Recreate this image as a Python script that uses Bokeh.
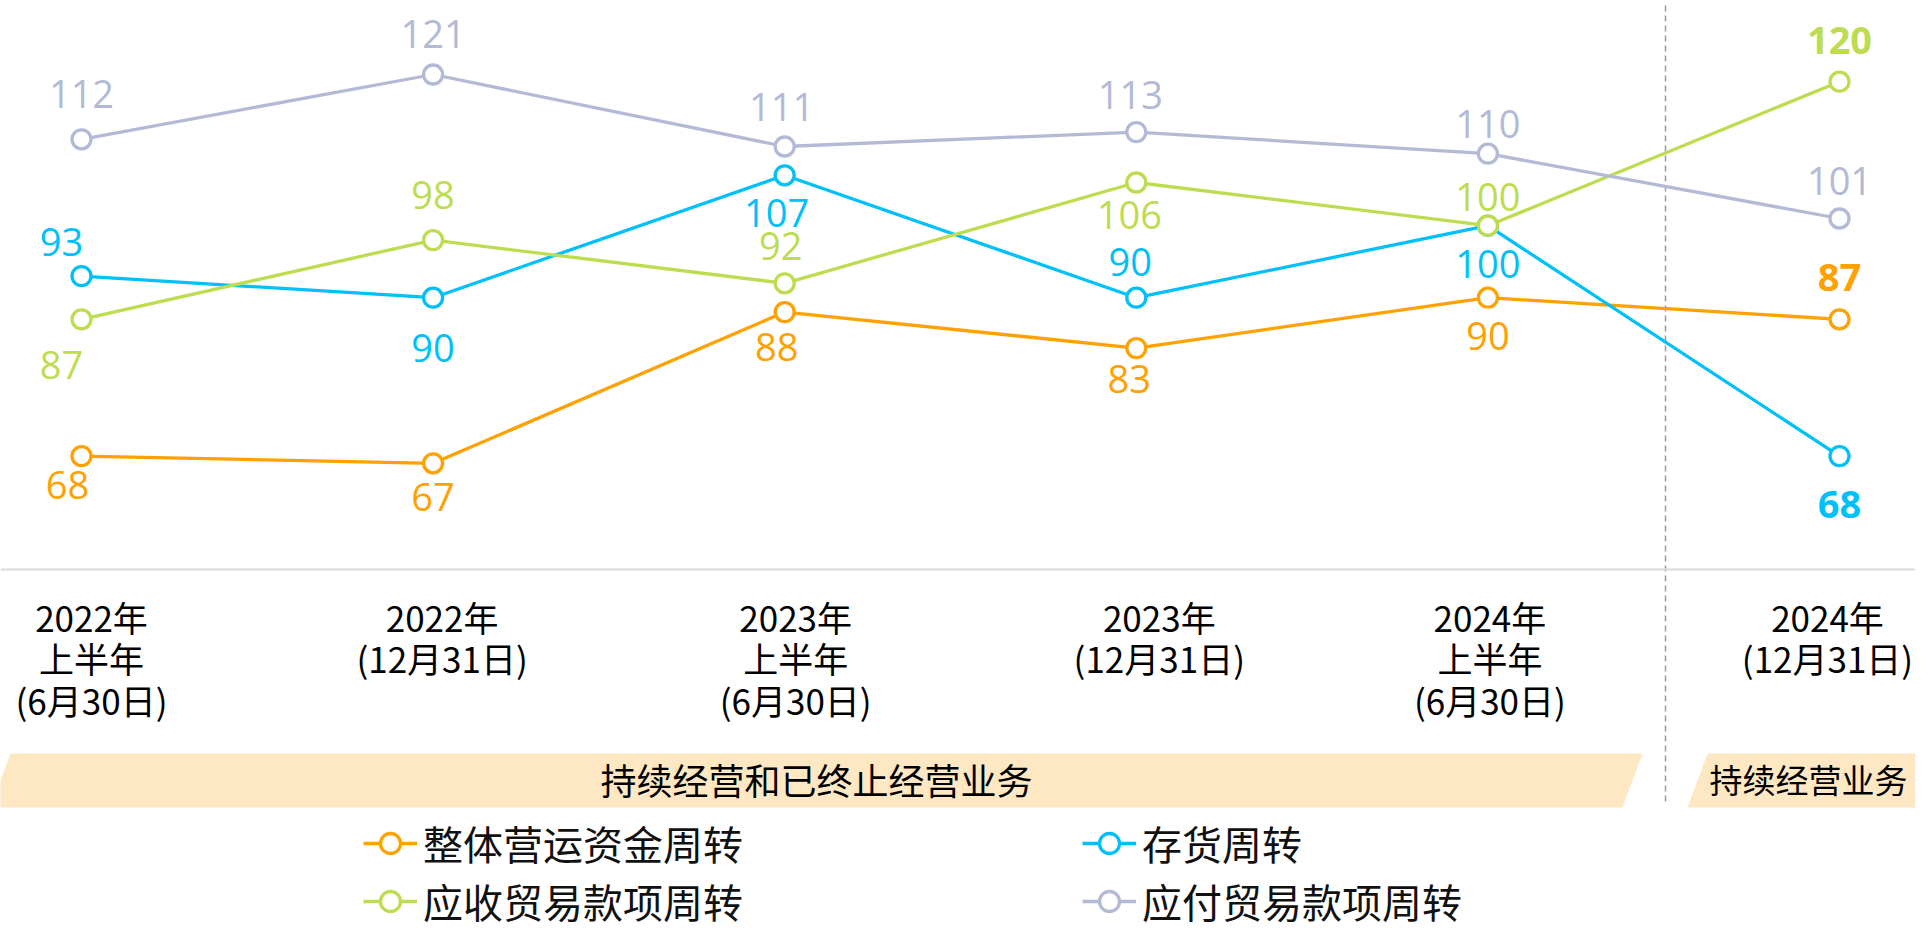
from bokeh.plotting import figure
from bokeh.models import Range1d, Legend, LegendItem, ColumnDataSource, Span
from bokeh.embed import file_html
from bokeh.resources import INLINE
from bokeh.core.properties import value

# ---------------- data ----------------
periods = ["2022年\n上半年\n(6月30日)", "2022年\n(12月31日)", "2023年\n上半年\n(6月30日)",
           "2023年\n(12月31日)", "2024年\n上半年\n(6月30日)", "2024年\n(12月31日)"]
series_names = ["整体营运资金周转", "存货周转", "应收贸易款项周转", "应付贸易款项周转"]
working_capital = [68, 67, 88, 83, 90, 87]
inventory = [93, 90, 107, 90, 100, 68]
receivables = [87, 98, 92, 106, 100, 120]
payables = [112, 121, 111, 113, 110, 101]
segment_labels = ["持续经营和已终止经营业务", "持续经营业务"]

# ---------------- styles / layout ----------------
colors = ["#FFA100", "#00C0FA", "#BEDC50", "#B3BAD6"]
# label offsets in screen px (x right, y down)
label_dy = [[29, 34, 35, 31, 38, -42],
            [-34, 50, 38, -36, 38, 48],
            [46, -45, -37, 32, -29, -41],
            [-45, -41, -40, -37, -30, -38]]
label_dx = [[-14, 0, -8, -7, 0, 0],
            [-20, 0, -8, -6, 0, 0],
            [-20, 0, -4, -7, 0, 0],
            [0, 0, -3, -6, 0, 0]]
label_bold = [[0, 0, 0, 0, 0, 1],
              [0, 0, 0, 0, 0, 1],
              [0, 0, 0, 0, 0, 1],
              [0, 0, 0, 0, 0, 0]]
tick_dx = [10, 9, 11, 23, 2, -12]

W, H = 1915, 931
X_LO, X_HI = (0 - 81) / 351.6, (W - 81) / 351.6
Y_LO, Y_HI = 121 - (H - 74) / 7.2, 121 + 74 / 7.2


def xd(px):
    return X_LO + px / W * (X_HI - X_LO)


def yd(py):
    return Y_HI - py / H * (Y_HI - Y_LO)


p = figure(width=W, height=H, output_backend="svg", toolbar_location=None,
           x_range=Range1d(X_LO, X_HI), y_range=Range1d(Y_LO, Y_HI),
           min_border=0, outline_line_color=None, background_fill_color="white")
p.axis.visible = False
p.grid.visible = False

# segment bands
band_fill = "#FDE8C3"
p.patch([xd(10), xd(1642), xd(1622), xd(-10)], [yd(753), yd(753), yd(807), yd(807)],
        fill_color=band_fill, line_color=None)
p.patch([xd(1707), xd(2100), xd(2100), xd(1687)], [yd(753), yd(753), yd(807), yd(807)],
        fill_color=band_fill, line_color=None)
p.text(x=[xd(816)], y=[yd(778)], text=[segment_labels[0]], text_align="center",
       text_baseline="middle", text_font=value("Noto Sans CJK SC"), text_font_size="36px",
       text_color="#000000")
p.text(x=[xd(1808)], y=[yd(778)], text=[segment_labels[1]], text_align="center",
       text_baseline="middle", text_font=value("Noto Sans CJK SC"), text_font_size="33px",
       text_color="#000000")

# axis line
p.add_layout(Span(location=yd(569), dimension="width", line_color="#D9D9D9", line_width=2))
# period separator
p.segment(x0=[xd(1665)], y0=[yd(5)], x1=[xd(1665)], y1=[yd(803)], line_color="#9A9A9A",
          line_width=1.5, line_dash="6 4")

# x tick labels
xs = list(range(len(periods)))
p.text(x=xs, y=[yd(590)] * len(xs), text=periods, x_offset=tick_dx, text_align="center",
       text_baseline="top", text_font=value("Noto Sans CJK SC"), text_font_size="35px",
       text_line_height=0.82, text_color="#000000")

all_series = [working_capital, inventory, receivables, payables]
renderers = []
for k, vals in enumerate(all_series):
    c = colors[k]
    ln = p.line(xs, vals, line_color=c, line_width=3.3)
    sc = p.scatter(xs, vals, size=19, fill_color="white", line_color=c, line_width=3.3)
    renderers.append([ln, sc])
    src = ColumnDataSource(dict(
        x=xs, y=vals, t=[str(v) for v in vals],
        dx=label_dx[k], dy=label_dy[k],
        fs=["bold" if b else "normal" for b in label_bold[k]]))
    p.text(x="x", y="y", text="t", x_offset="dx", y_offset="dy", text_font_style="fs",
           source=src, text_align="center", text_baseline="middle",
           text_font=value("Open Sans"), text_font_size="38px", text_color=c)

leg_common = dict(border_line_color=None, background_fill_alpha=0, padding=0, margin=0,
                  spacing=-3, glyph_width=54, glyph_height=50, label_standoff=6,
                  label_text_font="Noto Sans CJK SC", label_text_font_size="40px",
                  label_text_color="#111111", label_text_baseline="middle")
leg1 = Legend(items=[LegendItem(label=series_names[0], renderers=renderers[0]),
                     LegendItem(label=series_names[2], renderers=renderers[2])],
              location=(363, 1), **leg_common)
leg2 = Legend(items=[LegendItem(label=series_names[1], renderers=renderers[1]),
                     LegendItem(label=series_names[3], renderers=renderers[3])],
              location=(1082, 1), **leg_common)
p.add_layout(leg1)
p.add_layout(leg2)

open("out.html", "w").write(file_html(p, INLINE))
